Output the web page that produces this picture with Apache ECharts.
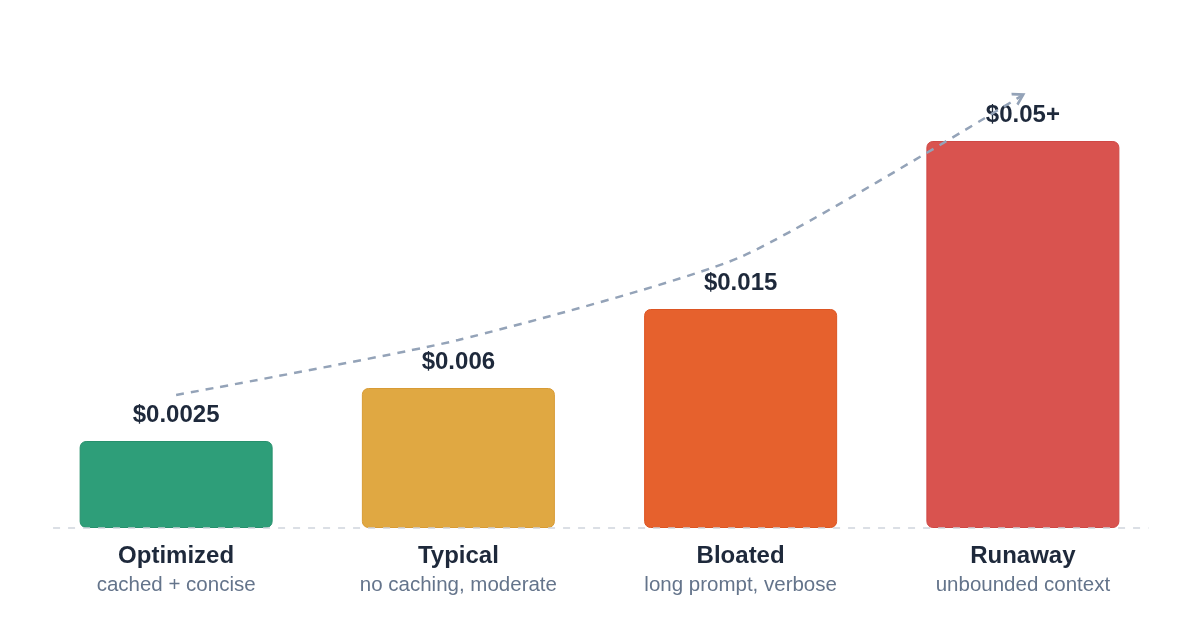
<!DOCTYPE html>
<html>
<head>
<meta charset="utf-8">
<script src="https://cdn.jsdelivr.net/npm/echarts@6/dist/echarts.min.js"></script>
<style>
html,body{margin:0;padding:0;background:#fff;}
#chart{width:1200px;height:635px;}
</style>
</head>
<body>
<div id="chart"></div>
<script>
// ---- data ----
const categories = ['Optimized', 'Typical', 'Bloated', 'Runaway'];
const subtitles = ['cached + concise', 'no caching, moderate', 'long prompt, verbose', 'unbounded context'];
const costLabels = ['$0.0025', '$0.006', '$0.015', '$0.05+'];
// visual bar heights (relative scale)
const barHeights = [87, 140, 219, 387];
const barColors = ['#2e9e79', '#e0a842', '#e6612d', '#d9534f'];
const barBorders = ['#27906d', '#d89b35', '#dc5523', '#cf4845'];
// dashed trend curve (category index, height)
const trendX = [0, 1, 2, 3];
const trendY = [133, 188, 271, 433];

const font = '"Liberation Sans", Arial, Helvetica, sans-serif';
const chart = echarts.init(document.getElementById('chart'));

chart.setOption({
  backgroundColor: '#ffffff',
  animation: false,
  grid: { left: 35, right: 36, top: 48, bottom: 107 },
  xAxis: [
    {
      type: 'category',
      data: categories,
      axisLine: { show: false },
      axisTick: { show: false },
      axisLabel: {
        margin: 14,
        fontFamily: font,
        formatter: function (v, i) { return '{name|' + v + '}\n{sub|' + subtitles[i] + '}'; },
        rich: {
          name: { fontSize: 24, fontWeight: 'bold', color: '#1e293b', lineHeight: 29, fontFamily: font },
          sub: { fontSize: 20.5, color: '#64748b', lineHeight: 29, fontFamily: font }
        }
      }
    },
    { type: 'value', min: -0.5, max: 3.5, show: false }
  ],
  yAxis: { type: 'value', min: 0, max: 480, show: false },
  series: [
    {
      type: 'line',
      xAxisIndex: 1,
      data: [],
      z: 1,
      silent: true,
      markLine: {
        silent: true,
        symbol: 'none',
        label: { show: false },
        lineStyle: { color: '#cfd5dd', width: 1.5, type: [7, 8] },
        data: [[{ coord: [-0.436, 0] }, { coord: [3.445, 0] }]]
      }
    },
    {
      type: 'bar',
      xAxisIndex: 0,
      barWidth: 193,
      data: barHeights.map((h, i) => ({
        value: h,
        itemStyle: { color: barColors[i], borderColor: barBorders[i], borderWidth: 1, borderRadius: 6 },
        label: { formatter: costLabels[i] }
      })),
      label: {
        show: true,
        position: 'top',
        distance: 14,
        fontFamily: font,
        fontSize: 24,
        fontWeight: 'bold',
        color: '#1e293b'
      },
      z: 2
    },
    {
      type: 'line',
      xAxisIndex: 1,
      data: trendX.map((x, i) => [x, trendY[i]]),
      smooth: 0.2,
      showSymbol: false,
      lineStyle: { color: '#94a3b8', width: 2.5, type: [8, 7] },
      z: 3,
      silent: true,
      markPoint: {
        silent: true,
        label: { show: false },
        data: [{
          coord: [trendX[3], trendY[3]],
          symbol: 'path://M0,0L10,6L0,12',
          symbolSize: [10, 12],
          symbolRotate: 29,
          symbolOffset: [-4, 2],
          itemStyle: { color: 'none', borderColor: '#94a3b8', borderWidth: 2.5 }
        }]
      }
    }
  ]
});
</script>
</body>
</html>
